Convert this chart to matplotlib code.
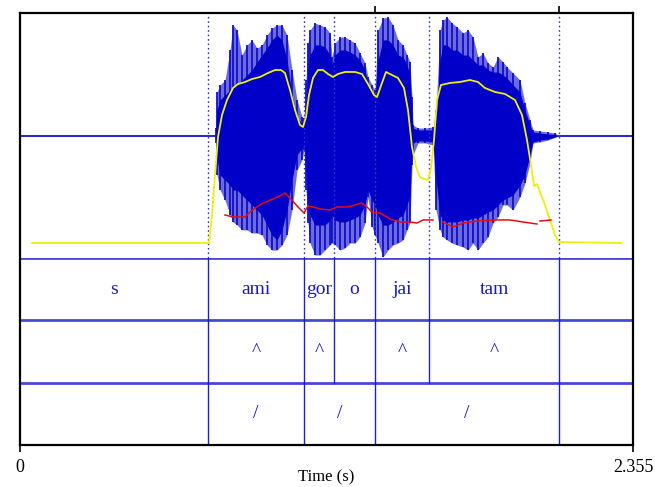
import matplotlib
matplotlib.use("Agg")
import matplotlib.pyplot as plt
import numpy as np

# ---------------- data ----------------
T_END = 2.355

# waveform envelope (time s, outer top, core top, core bottom, outer bottom), amplitude -1..1
wave_t = [0.7530, 0.7568, 0.7684, 0.7876, 0.8068, 0.8183, 0.8337, 0.8529, 0.8721, 0.8913,
          0.9105, 0.9297, 0.9489, 0.9681, 0.9873, 1.0066, 1.0258, 1.0450, 1.0642, 1.0834,
          1.0911, 1.0988, 1.1064, 1.1141, 1.1333, 1.1525, 1.1717, 1.1910, 1.1987, 1.2102,
          1.2294, 1.2486, 1.2678, 1.2870, 1.3062, 1.3254, 1.3369, 1.3523, 1.3638, 1.3754,
          1.3946, 1.4138, 1.4330, 1.4522, 1.4714, 1.4868, 1.4983, 1.5060, 1.5098, 1.5290,
          1.5559, 1.5867, 1.5982, 1.6136, 1.6251, 1.6405, 1.6597, 1.6789, 1.7019, 1.7211,
          1.7403, 1.7596, 1.7788, 1.7980, 1.8172, 1.8364, 1.8556, 1.8710, 1.8940, 1.9209,
          1.9401, 1.9593, 1.9708, 1.9977, 2.0284, 2.0554, 2.0707]
wave_top = [0.061, 0.355, 0.412, 0.453, 0.698, 0.902, 0.861, 0.657, 0.739, 0.780,
            0.714, 0.739, 0.820, 0.878, 0.902, 0.902, 0.820, 0.535, 0.290, 0.151,
            0.143, 0.453, 0.755, 0.861, 0.918, 0.902, 0.886, 0.837, 0.641, 0.755,
            0.804, 0.804, 0.780, 0.755, 0.673, 0.592, 0.478, 0.412, 0.371, 0.861,
            0.959, 0.967, 0.902, 0.780, 0.739, 0.657, 0.600, 0.314, 0.086, 0.061,
            0.061, 0.069, 0.208, 0.861, 0.943, 0.967, 0.918, 0.886, 0.837, 0.861,
            0.804, 0.641, 0.673, 0.592, 0.559, 0.641, 0.600, 0.559, 0.510, 0.453,
            0.265, 0.127, 0.045, 0.037, 0.029, 0.020, 0.0]
core_top = [0.045, 0.208, 0.290, 0.331, 0.371, 0.388, 0.412, 0.453, 0.494, 0.535,
            0.600, 0.657, 0.714, 0.780, 0.820, 0.780, 0.616, 0.331, 0.143, 0.102,
            0.086, 0.208, 0.535, 0.657, 0.739, 0.739, 0.722, 0.657, 0.576, 0.657,
            0.698, 0.698, 0.682, 0.657, 0.616, 0.535, 0.412, 0.355, 0.331, 0.616,
            0.780, 0.780, 0.739, 0.657, 0.641, 0.576, 0.494, 0.208, 0.061, 0.045,
            0.045, 0.045, 0.127, 0.616, 0.739, 0.739, 0.698, 0.698, 0.657, 0.657,
            0.616, 0.576, 0.576, 0.535, 0.518, 0.518, 0.494, 0.469, 0.412, 0.355,
            0.208, 0.086, 0.029, 0.020, 0.012, 0.008, 0.0]
core_bot = [-0.045, -0.200, -0.322, -0.363, -0.404, -0.445, -0.445, -0.486, -0.527, -0.567,
            -0.608, -0.649, -0.731, -0.812, -0.853, -0.771, -0.608, -0.363, -0.159, -0.102,
            -0.078, -0.241, -0.527, -0.649, -0.731, -0.731, -0.731, -0.690, -0.649, -0.690,
            -0.706, -0.706, -0.690, -0.673, -0.649, -0.567, -0.445, -0.527, -0.567, -0.649,
            -0.731, -0.731, -0.706, -0.673, -0.649, -0.567, -0.486, -0.118, -0.061, -0.045,
            -0.045, -0.053, -0.363, -0.649, -0.690, -0.706, -0.706, -0.706, -0.690, -0.690,
            -0.673, -0.673, -0.649, -0.624, -0.608, -0.567, -0.527, -0.510, -0.486, -0.404,
            -0.322, -0.159, -0.053, -0.037, -0.029, -0.012, 0.0]
wave_bot = [-0.061, -0.322, -0.445, -0.527, -0.649, -0.706, -0.731, -0.771, -0.771, -0.796,
            -0.796, -0.812, -0.894, -0.935, -0.935, -0.894, -0.812, -0.608, -0.282, -0.200,
            -0.118, -0.445, -0.714, -0.878, -0.976, -0.976, -0.935, -0.894, -0.878, -0.894,
            -0.935, -0.918, -0.878, -0.878, -0.829, -0.714, -0.502, -0.747, -0.812, -0.878,
            -0.992, -0.935, -0.894, -0.878, -0.853, -0.771, -0.714, -0.241, -0.159, -0.061,
            -0.061, -0.078, -0.608, -0.771, -0.829, -0.853, -0.878, -0.894, -0.910, -0.935,
            -0.878, -0.935, -0.878, -0.829, -0.714, -0.665, -0.567, -0.567, -0.608, -0.502,
            -0.388, -0.224, -0.061, -0.053, -0.037, -0.016, 0.0]

# intensity contour (dB)
int_t = [0.0461, 0.7261, 0.7376, 0.7492, 0.7607, 0.7760, 0.7953, 0.8183, 0.8375, 0.8644,
         0.8913, 0.9220, 0.9528, 0.9797, 1.0027, 1.0181, 1.0373, 1.0565, 1.0757, 1.0872,
         1.0988, 1.1103, 1.1256, 1.1449, 1.1641, 1.1833, 1.2025, 1.2217, 1.2486, 1.2870,
         1.3139, 1.3369, 1.3600, 1.3715, 1.3907, 1.4061, 1.4292, 1.4522, 1.4753, 1.4906,
         1.5060, 1.5214, 1.5367, 1.5521, 1.5674, 1.5790, 1.5905, 1.6020, 1.6174, 1.6520,
         1.6904, 1.7288, 1.7596, 1.7864, 1.8249, 1.8633, 1.9017, 1.9286, 1.9478, 1.9632,
         1.9747, 1.9862, 1.9977, 2.0169, 2.0362, 2.0554, 2.0707, 2.3089]
int_db = [33.37, 33.37, 39.65, 48.63, 57.16, 62.10, 65.47, 68.16, 69.06, 69.51,
          70.18, 70.63, 71.53, 72.20, 72.20, 71.53, 67.71, 63.22, 59.86, 59.41,
          61.65, 66.59, 70.41, 72.20, 72.20, 71.31, 70.63, 71.31, 71.76, 71.76,
          71.31, 69.06, 66.59, 66.14, 69.29, 71.76, 71.08, 70.41, 68.16, 63.22,
          54.92, 50.43, 48.18, 47.73, 47.51, 50.20, 56.49, 65.47, 68.84, 69.29,
          69.51, 69.96, 69.51, 68.16, 67.27, 66.82, 65.47, 62.10, 56.49, 50.88,
          46.16, 46.61, 44.82, 41.90, 38.53, 35.16, 33.59, 33.37]

# pitch contour (Hz), three voiced stretches
pitch_t1 = [0.7876, 0.8183, 0.8644, 0.8836, 0.9105, 0.9336, 0.9720, 0.9989, 1.0181, 1.0373,
            1.0680, 1.0911, 1.1064, 1.1256, 1.1525, 1.1910, 1.2179, 1.2563, 1.2870, 1.3139,
            1.3331, 1.3523, 1.3830, 1.4215, 1.4599, 1.4983, 1.5252, 1.5483, 1.5867]
pitch_f1 = [87.8, 83.7, 83.7, 93.9, 104.1, 112.2, 120.4, 126.5, 132.7, 122.4,
            104.1, 91.8, 106.1, 104.1, 100.0, 98.0, 104.1, 104.1, 108.2, 112.2,
            104.1, 93.9, 91.8, 79.6, 73.5, 73.5, 71.4, 77.6, 77.6]
pitch_t2 = [1.6251, 1.6635, 1.7019, 1.7557, 1.8325, 1.8825, 1.9324, 1.9862]
pitch_f2 = [73.5, 63.3, 71.4, 75.5, 77.6, 77.6, 73.5, 69.4]
pitch_t3 = [1.9977, 2.0400]
pitch_f3 = [75.5, 77.6]

# TextGrid
tier1_bounds = [0.0, 0.722, 1.091, 1.206, 1.364, 1.571, 2.071, T_END]
tier1_labels = ["s", "ami", "gor", "o", "jai", "tam", ""]
tier2_bounds = [0.0, 0.722, 1.091, 1.206, 1.364, 1.571, 2.071, T_END]
tier2_labels = ["", "^", "^", "", "^", "^", ""]
tier3_bounds = [0.0, 0.722, 1.091, 1.364, 2.071, T_END]
tier3_labels = ["", "/", "/", "/", ""]
top_marks = [1.364, 2.071]

# ---------------- drawing ----------------
W, H = 655, 487
fig = plt.figure(figsize=(W / 100, H / 100), dpi=100)
plt.rcParams['font.family'] = ['Liberation Serif', 'DejaVu Serif']

L, R, TOP, MID, BOT = 20, 633, 13, 258, 445

def rect(x0, y0, x1, y1):
    return [x0 / W, 1 - y1 / H, (x1 - x0) / W, (y1 - y0) / H]

BLUE = '#0000c8'
LBLUE = '#4848d8'

ax_w = fig.add_axes(rect(L, TOP, R, MID))
ax_w.set_xlim(0, T_END)
ax_w.set_ylim(-1, 1)
ax_w.axis('off')
ax_w.axhline(0, color=BLUE, lw=1.2, zorder=1)
ax_w.fill_between(wave_t, wave_bot, wave_top, color='#6c6ce0', lw=0, zorder=2)
ax_w.vlines(wave_t, wave_bot, wave_top, color='#1010c8', lw=1.3, zorder=3)
ax_w.fill_between(wave_t, core_bot, core_top, color=BLUE, lw=0, zorder=3)
for b in tier1_bounds[1:-1]:
    col = '#40409a' if b in top_marks else '#3030e0'
    ax_w.axvline(b, color=col, lw=1.0, ls=(0, (1.2, 2.0)), zorder=4)

ax_i = ax_w.twinx()
ax_i.set_xlim(0, T_END)
ax_i.set_ylim(30, 85)
ax_i.axis('off')
ax_i.plot(int_t, int_db, color='#eeee10', lw=1.3, zorder=5)

ax_p = ax_w.twinx()
ax_p.set_xlim(0, T_END)
ax_p.set_ylim(0, 500)
ax_p.axis('off')
for tt, ff in [(pitch_t1, pitch_f1), (pitch_t2, pitch_f2), (pitch_t3, pitch_f3)]:
    ax_p.plot(tt, ff, color='#e01010', lw=1.1, zorder=6)

# tiers
ax_t = fig.add_axes(rect(L, MID, R, BOT))
ax_t.set_xlim(0, T_END)
ax_t.set_ylim(0, 3)
ax_t.axis('off')
for yl in [1, 2, 3]:
    ax_t.axhline(yl, color=LBLUE, lw=2.0)
tiers = [(tier1_bounds, tier1_labels, 2), (tier2_bounds, tier2_labels, 1),
         (tier3_bounds, tier3_labels, 0)]
for bounds, labels, base in tiers:
    for b in bounds[1:-1]:
        ax_t.plot([b, b], [base, base + 1], color='#2020c8', lw=1.0)
    for i, lab in enumerate(labels):
        if lab:
            ax_t.text((bounds[i] + bounds[i + 1]) / 2, base + 0.5, lab,
                      ha='center', va='center', fontsize=14, color='#1818cc')

# frame with time axis
ax_f = fig.add_axes(rect(L, TOP, R, BOT))
ax_f.set_xlim(0, T_END)
ax_f.set_ylim(0, 1)
ax_f.patch.set_alpha(0)
for s in ax_f.spines.values():
    s.set_color('black')
    s.set_linewidth(1.6)
ax_f.set_yticks([])
ax_f.set_xticks([0, T_END])
ax_f.set_xticklabels(['0', '2.355'])
ax_f.tick_params(axis='x', direction='out', length=5, width=1.2, labelsize=13, pad=5)
ax_f.set_xlabel('Time (s)', fontsize=12, labelpad=-5)
sec = ax_f.secondary_xaxis('top')
sec.set_xticks(top_marks)
sec.set_xticklabels([])
sec.tick_params(direction='out', length=5, width=1.2)
sec.spines['top'].set_visible(False)

fig.savefig('out.png', dpi=100)
